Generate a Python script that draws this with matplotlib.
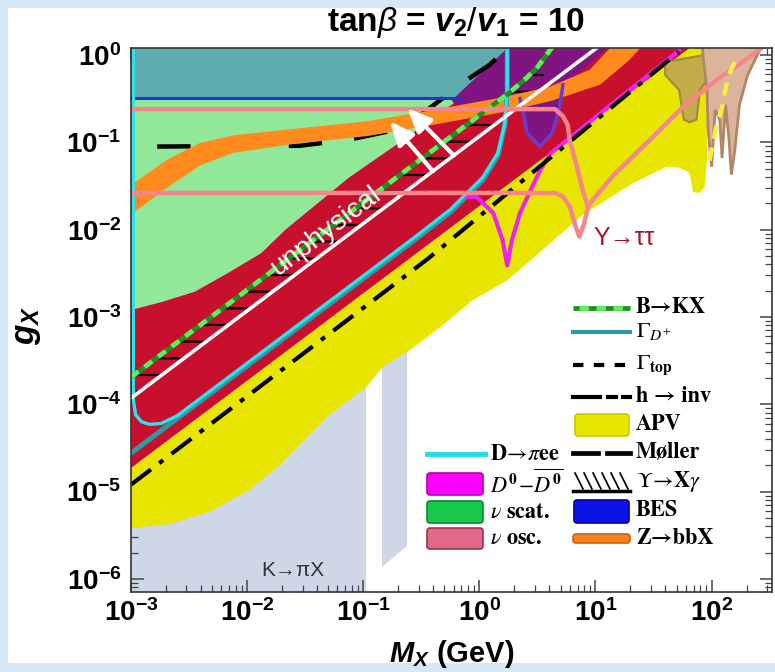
import numpy as np
import matplotlib
matplotlib.use("Agg")
import matplotlib.pyplot as plt
from matplotlib.patches import Polygon, Rectangle, FancyBboxPatch, FancyArrowPatch
from matplotlib.lines import Line2D
from matplotlib.ticker import FixedLocator, FixedFormatter, LogLocator, NullFormatter

plt.rcParams.update({
    'font.family': ['Liberation Sans', 'DejaVu Sans'],
    'mathtext.fontset': 'custom',
    'mathtext.rm': 'Liberation Sans',
    'mathtext.it': 'Liberation Sans:italic',
    'mathtext.bf': 'Liberation Sans:bold',
    'mathtext.bfit': 'Liberation Sans:bold:italic',
    'hatch.linewidth': 1.6,
})

# ---------------- data (log10 M_X [GeV], log10 g_X) ----------------
xlim_log = (-3.0, 2.52)
ylim_log = (-6.15, 0.08)
xtick_exp = [-3, -2, -1, 0, 1, 2]
ytick_exp = [0, -1, -2, -3, -4, -5, -6]
xtick_labels = [r'$\mathbf{10^{%d}}$' % e for e in xtick_exp]
ytick_labels = [r'$\mathbf{10^{%d}}$' % e for e in ytick_exp]

# K -> pi X (grey-blue)
K_left_logM = [-3.0, -3.0, -0.98, -0.98]
K_left_logg = [-6.3, -3.0, -3.0, -6.3]
K_strip_logM = [-0.84, -0.84, -0.62, -0.62]
K_strip_logg = [-5.86, -3.0, -3.0, -5.62]

# APV (yellow)
APV_logM = [-3.00, -2.66, -2.32, -1.98, -1.72, -1.55, -1.29, -0.97, -0.83, -0.60, -0.34, -0.06,
            0.24, 0.46, 0.89, 1.32, 1.61, 1.72, 1.81, 1.84, 1.90, 1.94, 1.96, 1.96, 1.83, -3.00]
APV_logg = [-5.42, -5.37, -5.23, -4.98, -4.70, -4.47, -4.12, -3.80, -3.57, -3.38, -3.12, -2.81,
            -2.58, -2.33, -1.83, -1.47, -1.28, -1.29, -1.35, -1.57, -1.58, -1.51, -1.20, 0.10, 0.10, -4.73]

# red band
red_logM = [-3.00, -2.74, -2.45, -2.17, -1.88, -1.67, -1.12, -0.62, -0.34, -0.15, 0.43, 0.43, 1.83, -3.00]
red_logg = [-2.92, -2.83, -2.71, -2.50, -2.27, -2.00, -1.40, -0.94, -0.66, -0.49, 0.08, 0.10, 0.10, -4.73]

# nu scattering (light green)
nuscat_logM = [-3.0, -0.15, -0.34, -0.62, -1.12, -1.67, -1.88, -2.17, -2.45, -2.74, -3.00]
nuscat_logg = [-0.49, -0.49, -0.66, -0.94, -1.40, -2.00, -2.27, -2.50, -2.71, -2.83, -2.92]

# top teal region
teal_logM = [-3.0, -3.0, 0.28, -0.21]
teal_logg = [-0.49, 0.10, 0.10, -0.49]

# purple region with dip
purple_logM = [-0.24, 0.26, 1.12, 0.89, 0.72, 0.69, 0.63, 0.52, 0.41, 0.37, 0.09, -0.13]
purple_logg = [-0.52, 0.10, 0.10, -0.17, -0.34, -0.60, -0.89, -1.05, -0.89, -0.60, -0.65, -0.69]
dip_logM = [0.72, 0.69, 0.63, 0.52, 0.41, 0.37, 0.35]
dip_logg = [-0.34, -0.60, -0.89, -1.05, -0.89, -0.60, -0.50]

# Z -> bbX band (orange)
Z_up_logM = [-3.00, -2.69, -2.41, -2.12, -1.55, -0.97, -0.40, 0.18, 0.61, 0.95, 1.14]
Z_up_logg = [-1.49, -1.20, -1.01, -0.92, -0.84, -0.76, -0.63, -0.49, -0.36, -0.17, 0.10]
Z_lo_logM = [-3.00, -2.69, -2.41, -2.12, -1.55, -0.97, -0.40, 0.18, 0.61, 1.04, 1.29, 1.40]
Z_lo_logg = [-1.83, -1.52, -1.27, -1.12, -1.01, -0.93, -0.80, -0.66, -0.53, -0.34, -0.06, 0.10]

# olive and tan regions (high mass)
olive_logM = [1.60, 1.94, 1.96, 1.90, 1.87, 1.81, 1.76, 1.72, 1.60]
olive_logg = [-0.08, 0.00, -0.29, -0.40, -0.74, -0.77, -0.74, -0.40, -0.23]
tan_logM = [1.92, 2.43, 2.31, 2.24, 2.20, 2.17, 2.15, 2.12, 2.09, 2.07, 2.03, 2.00, 1.97, 1.96, 1.93]
tan_logg = [0.10, 0.10, -0.23, -0.57, -1.09, -1.37, -0.97, -0.57, -1.18, -0.74, -0.63, -1.28, -0.86, -0.40, -0.06]
top_logM = [2.20, 2.14, 2.09, 2.04, 2.00, 1.97]
top_logg = [-0.08, -0.25, -0.60, -0.82, -1.09, -1.28]

# lines
BES_logM = [-3.0, -0.15]
BES_logg = [-0.49, -0.49]
moller_logM = [-3.0, -1.55, -1.12, -0.80, -0.51, -0.34, -0.17, 0.09, 0.26]
moller_logg = [-1.05, -1.04, -0.97, -0.88, -0.69, -0.52, -0.34, -0.11, 0.10]
GD_logM = [-3.0, -0.57, -0.25, 0.03, 0.16, 0.22, 0.24, 0.24]
GD_logg = [-4.56, -2.13, -1.80, -1.43, -1.15, -0.80, -0.40, 0.10]
Dpiee_logM = [-2.98, -2.98, -2.96, -2.91, -2.84, -2.74, -2.60, -2.30, -0.57, -0.25, 0.03, 0.16, 0.22, 0.24, 0.24]
Dpiee_logg = [0.10, -3.95, -4.12, -4.20, -4.23, -4.22, -4.13, -3.83, -2.10, -1.77, -1.40, -1.12, -0.78, -0.40, 0.10]
unphys_logM = [-3.0, 1.03]
unphys_logg = [-3.93, 0.10]
BKX_logM = [-3.0, 0.26, 0.40, 0.50, 0.61, 0.65]
BKX_logg = [-3.69, -0.43, -0.27, -0.14, 0.06, 0.12]
UpsXg_logM = [-3.0, 0.26, 0.40, 0.55, 0.55, -3.0]
UpsXg_logg = [-3.69, -0.43, -0.27, -0.05, -0.38, -3.93]
hinv_logM = [-3.0, -0.44, 1.72]
hinv_logg = [-4.92, -2.33, 0.04]
D0_logM = [-0.13, -0.02, 0.12, 0.20, 0.24, 0.28, 0.35, 0.43, 0.52, 0.61, 1.04, 1.72]
D0_logg = [-1.62, -1.63, -1.81, -2.12, -2.41, -2.12, -1.81, -1.58, -1.33, -1.13, -0.67, 0.05]
nuosc1_logM = [-3.0, 0.65, 0.72, 0.76, 0.78, 0.84, 0.89, 0.93]
nuosc1_logg = [-0.62, -0.62, -0.70, -0.80, -0.99, -1.28, -1.55, -1.72]
nuosc2_logM = [-3.0, 0.65, 0.72, 0.78, 0.83, 0.86, 0.90, 0.94, 1.16, 1.47, 1.75, 2.04, 2.33, 2.45]
nuosc2_logg = [-1.58, -1.58, -1.62, -1.74, -1.97, -2.08, -1.94, -1.72, -1.37, -0.97, -0.60, -0.29, -0.02, 0.10]

arrow_tail_logM = [-0.40, -0.22]
arrow_tail_logg = [-1.33, -1.15]
arrow_head_logM = [-0.77, -0.62]
arrow_head_logg = [-0.76, -0.61]

labels_plot = {'unphysical': (-1.32, -2.02), 'Υ→ττ': (1.25, -2.10), 'K→πX': (-1.61, -5.90)}

legend_right = ['B→KX', r'$\Gamma_{D^{+}}$', r'$\Gamma_{\mathbf{top}}$', 'h → inv', 'APV', 'Møller',
                r'$\Upsilon\!\rightarrow\!\mathbf{X}\gamma$', 'BES', 'Z→bbX']
legend_left = [r'$\mathbf{D}\!\rightarrow\!\pi\mathbf{ee}$', r'$D^{\mathbf{0}}\!-\!\overline{D^{\mathbf{0}}}$',
               r'$\nu$ scat.', r'$\nu$ osc.']

# ---------------- figure ----------------
W, H = 775, 672
fig = plt.figure(figsize=(W / 100, H / 100), dpi=100)
fig.patch.set_facecolor('#d6e8f5')
fig.add_artist(Rectangle((8 / W, 9 / H), 1, 1 - 17 / H, transform=fig.transFigure,
                         facecolor='white', edgecolor='none', zorder=-5))
ax = fig.add_axes([131 / W, 1 - 592 / H, (772 - 131) / W, (592 - 48) / H])
ax.set_xscale('log')
ax.set_yscale('log')
ax.set_xlim(10 ** xlim_log[0], 10 ** xlim_log[1])
ax.set_ylim(10 ** ylim_log[0], 10 ** ylim_log[1])
ax.set_facecolor('white')


def L(a):
    return 10.0 ** np.asarray(a, float)


def fillpoly(lm, lg, fc, z, ec='none', lw=0, **kw):
    ax.add_patch(Polygon(np.column_stack([L(lm), L(lg)]), closed=True, facecolor=fc,
                         edgecolor=ec, linewidth=lw, zorder=z, **kw))


def line(lm, lg, **kw):
    ax.plot(L(lm), L(lg), **kw)


fillpoly(K_left_logM, K_left_logg, '#cdd7e6', 1)
fillpoly(K_strip_logM, K_strip_logg, '#cdd7e6', 1)
fillpoly(APV_logM, APV_logg, '#e8e600', 2)
fillpoly(teal_logM, teal_logg, '#5facaf', 2)
fillpoly(nuscat_logM, nuscat_logg, '#91e898', 2)
fillpoly(red_logM, red_logg, '#c8102e', 2.5)
fillpoly(purple_logM, purple_logg, '#801480', 3)
fillpoly(olive_logM, olive_logg, '#c4aa48', 3, ec='#a08840', lw=1.5)
fillpoly(tan_logM, tan_logg, '#dcb49c', 3, ec='#b08866', lw=2)
fillpoly(UpsXg_logM, UpsXg_logg, 'none', 3.5, ec='black', lw=0, hatch='-')
line(moller_logM, moller_logg, color='black', lw=3.2, linestyle=(8.9, (7.5, 7.3)), zorder=3.6)
Zm = list(Z_up_logM) + list(Z_lo_logM)[::-1]
Zg = list(Z_up_logg) + list(Z_lo_logg)[::-1]
fillpoly(Zm, Zg, '#ff8a1e', 4)
line(BES_logM, BES_logg, color='#1838d8', lw=2.2, zorder=4.5)
line(dip_logM, dip_logg, color='#6a3ad0', lw=2.5, zorder=4.5)
line(GD_logM, GD_logg, color='#2e9aa6', lw=3.6, zorder=5)
line(Dpiee_logM, Dpiee_logg, color='#30e0ea', lw=2.4, zorder=5.05)
line(D0_logM, D0_logg, color='#ee22ee', lw=3, zorder=5)
line(hinv_logM, hinv_logg, color='black', lw=3, linestyle=(0, (6, 2.5, 1.2, 2.5)), zorder=5.1)
line(unphys_logM, unphys_logg, color='white', lw=2.6, zorder=5.2)
line(BKX_logM, BKX_logg, color='#1f8f1f', lw=3.4, zorder=5.3, solid_capstyle='butt')
line(BKX_logM, BKX_logg, color='#5cf05c', lw=3.4, linestyle=(0, (2, 1.6)), zorder=5.35)
line(nuosc1_logM, nuosc1_logg, color='#f4868c', lw=3.2, zorder=5.5)
line(nuosc2_logM, nuosc2_logg, color='#f4868c', lw=3.2, zorder=5.5)
line(top_logM, top_logg, color='#f5f040', lw=3.2, linestyle=(0, (3, 2)), zorder=5.5)

for tm, tg, hm, hg in zip(arrow_tail_logM, arrow_tail_logg, arrow_head_logM, arrow_head_logg):
    ax.add_patch(FancyArrowPatch((10 ** tm, 10 ** tg), (10 ** hm, 10 ** hg),
                                 arrowstyle='-|>,head_length=0.8,head_width=0.35',
                                 mutation_scale=18, lw=3, color='white', zorder=6,
                                 shrinkA=0, shrinkB=0))

(um, ug) = labels_plot['unphysical']
ax.text(10 ** um, 10 ** ug, 'unphysical', color='white', fontsize=20, rotation=37,
        rotation_mode='anchor', ha='center', va='center', zorder=7)
(tm_, tg_) = labels_plot['Υ→ττ']
ax.text(10 ** tm_, 10 ** tg_, 'Υ→ττ', color='#a01a24', fontsize=18, ha='center', va='center', zorder=7)
(km, kg) = labels_plot['K→πX']
ax.text(10 ** km, 10 ** kg, 'K→πX', color='#333333', fontsize=15, ha='center', va='center', zorder=7)

# axes styling
ax.xaxis.set_major_locator(FixedLocator(L(xtick_exp)))
ax.xaxis.set_major_formatter(FixedFormatter(xtick_labels))
ax.yaxis.set_major_locator(FixedLocator(L(ytick_exp)))
ax.yaxis.set_major_formatter(FixedFormatter(ytick_labels))
for axis in (ax.xaxis, ax.yaxis):
    axis.set_minor_locator(LogLocator(base=10, subs=np.arange(2, 10), numticks=30))
    axis.set_minor_formatter(NullFormatter())
ax.tick_params(which='both', direction='in', top=True, right=True, color='#444444')
ax.tick_params(which='major', length=9, width=1.1, labelsize=20)
ax.tick_params(which='minor', length=5, width=0.9)
ax.tick_params(axis='x', pad=5)
ax.tick_params(axis='y', pad=7)
for s in ax.spines.values():
    s.set_color('#333333')
    s.set_linewidth(1.2)
    s.set_zorder(8)

ax.set_ylabel(r'$\mathbfit{g}_{\mathbfit{X}}$', fontsize=24)
ax.yaxis.set_label_coords(-0.137, 0.49)
ax.set_xlabel(r'$\mathbfit{M}_{\mathbfit{X}}$ (GeV)', fontsize=21, fontweight='bold')
ax.xaxis.set_label_coords(0.50, -0.085)

fig.text(456 / W, 1 - 22 / H, r'tan$\beta$ = $\mathbfit{v}_{\mathbf{2}}/\mathbfit{v}_{\mathbf{1}}$ = 10',
         fontsize=24, fontweight='bold', ha='center', va='center')

# ---------------- legend (drawn in figure pixels) ----------------
def fx(x):
    return x / W


def fy(y):
    return 1 - y / H


def leg_line(x0, x1, y, **kw):
    fig.add_artist(Line2D([fx(x0), fx(x1)], [fy(y), fy(y)], transform=fig.transFigure, **kw))


def leg_box(x0, x1, y0, y1, fc, ec):
    fig.add_artist(FancyBboxPatch((fx(x0), fy(y1)), fx(x1) - fx(x0), fy(y0) - fy(y1),
                                  boxstyle='round,pad=0,rounding_size=0.004',
                                  transform=fig.transFigure, fc=fc, ec=ec, lw=1.2))


def leg_text(x, y, s):
    fig.text(fx(x), fy(y), s, fontsize=16, fontfamily='STIXGeneral', fontweight='bold',
             math_fontfamily='stix', ha='left', va='center')


rows_r = [308, 332, 365, 397, 425, 453, 481, 510, 538]
hx0, hx1, tx = 573, 630, 636
leg_line(hx0, hx1, rows_r[0], color='#1f8f1f', lw=3.4, solid_capstyle='butt')
leg_line(hx0 + 6, hx1 - 6, rows_r[0], color='#5cf05c', lw=3.4, linestyle=(0, (2, 1.6)))
leg_line(hx0, hx1, rows_r[1], color='#2e9aa6', lw=3)
leg_line(hx0, hx1, rows_r[2], color='black', lw=3, linestyle=(0, (2.5, 2.5)))
leg_line(hx0, hx0 + 27, rows_r[3], color='black', lw=3)
leg_line(hx0 + 35, hx0 + 43, rows_r[3], color='black', lw=3)
leg_line(hx0 + 50, hx1, rows_r[3], color='black', lw=3)
leg_box(hx0 + 2, hx1 - 1, 414, 436, '#e6e600', '#c8c800')
leg_line(hx0, hx0 + 25, rows_r[5], color='black', lw=3.4)
leg_line(hx0 + 34, hx1, rows_r[5], color='black', lw=3.4)
leg_line(hx0, hx1, 491, color='black', lw=2.5)
for i in range(6):
    fig.add_artist(Line2D([fx(hx0 + 2 + 9 * i), fx(hx0 + 10 + 9 * i)], [fy(473), fy(489)],
                          transform=fig.transFigure, color='black', lw=1.2))
leg_box(hx0 + 1, hx1 - 1, 500, 523, '#0a14e6', '#0000a0')
leg_box(hx0, hx1, 534, 543, '#ff7f1f', '#d06010')
for y, s in zip(rows_r, legend_right):
    leg_text(tx, y, s)

rows_l = [454, 484, 512, 538]
lx0, lx1, ltx = 427, 485, 490
leg_line(lx0, lx1, rows_l[0], color='#22dde8', lw=3.5)
leg_box(lx0, lx1 - 2, 473, 495, '#ff00ff', '#b000b0')
leg_box(lx0, lx1 - 2, 501, 523, '#18c84a', '#0c8a30')
leg_box(lx0, lx1 - 2, 528, 549, '#e06888', '#a03050')
for y, s in zip(rows_l, legend_left):
    leg_text(ltx, y, s)

fig.savefig('out.png', dpi=100, facecolor=fig.get_facecolor())
